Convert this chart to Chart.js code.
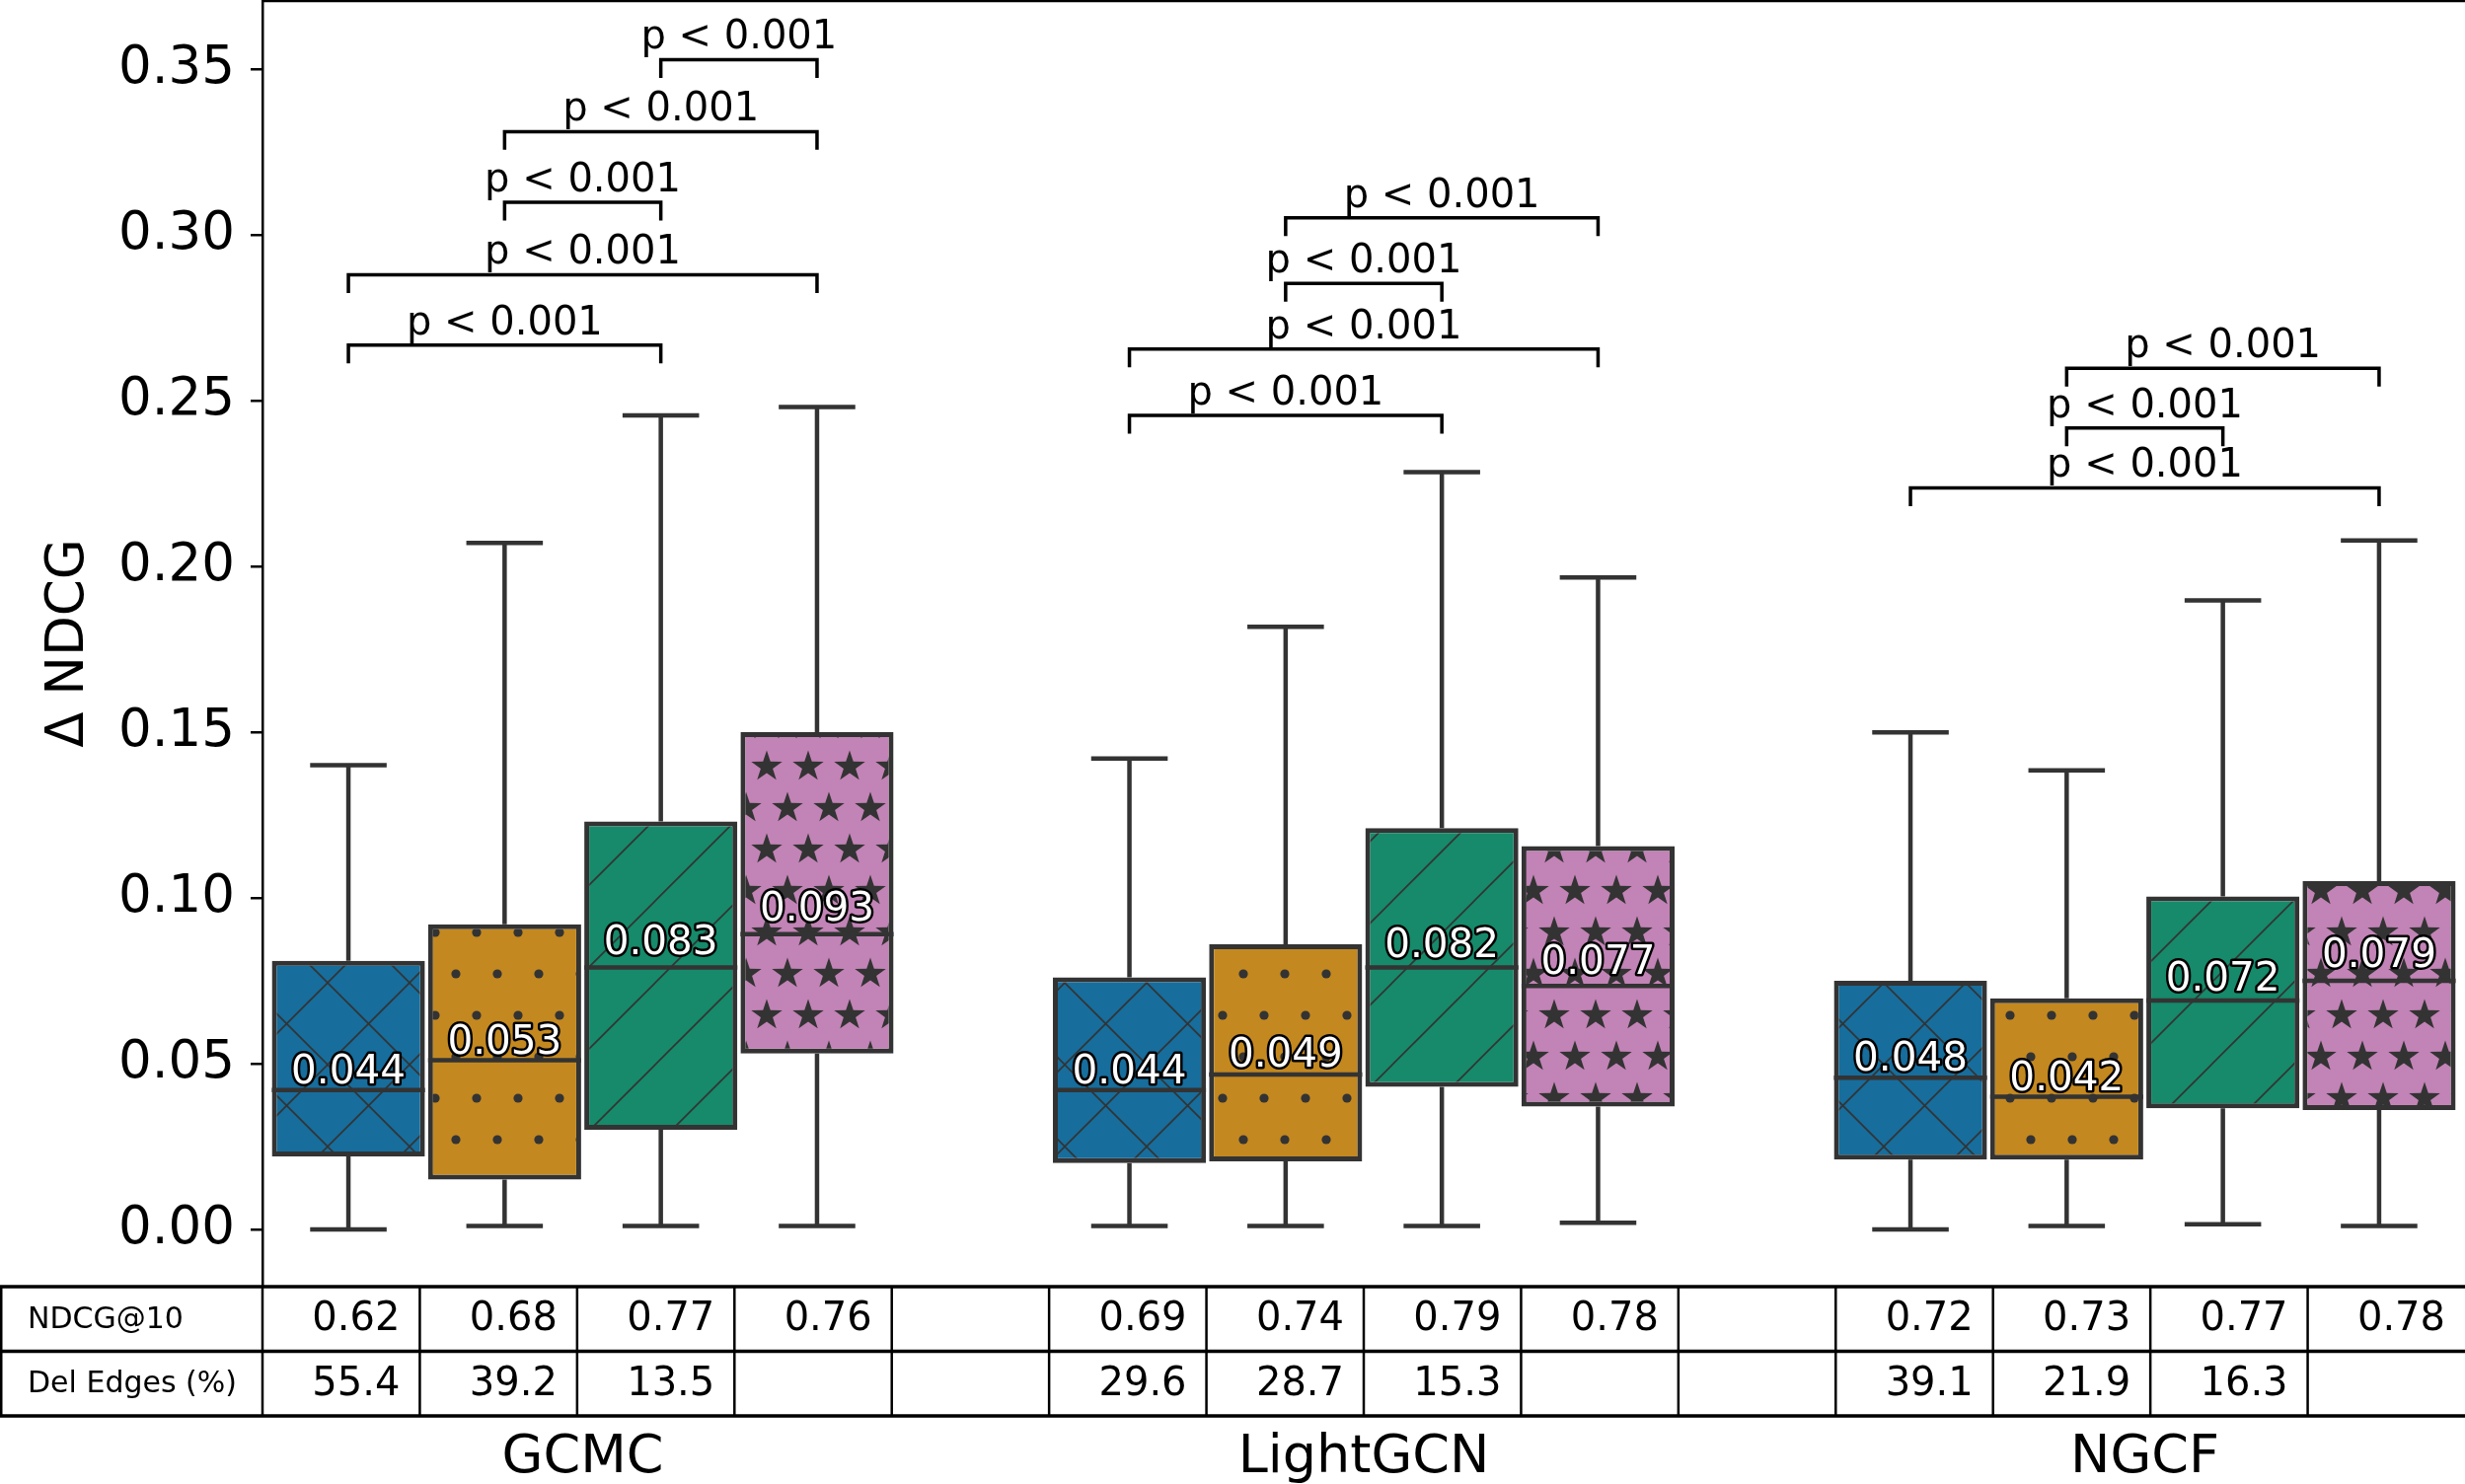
<!DOCTYPE html>
<html>
<head>
<meta charset="utf-8">
<script src="https://cdn.jsdelivr.net/npm/chart.js@4/dist/chart.umd.min.js"></script>
<style>
  body { margin: 0; background: #fff; }
  canvas { display: block; }
</style>
</head>
<body>
<canvas id="boxChart" width="2498" height="1504"></canvas>
<script>
const FONT = '"DejaVu Sans", sans-serif';

const models = ['GCMC', 'LightGCN', 'NGCF'];
const hueColors = ['#176D9C', '#C38820', '#168A6A', '#C283B6'];
const hueHatches = ['x', '.', '/', '*'];

// box statistics, one row per model, one value per hue
const boxMin = [[0.000, 0.001, 0.001, 0.001], [0.001, 0.001, 0.001, 0.002], [0.000, 0.001, 0.0015, 0.001]];
const boxQ1 = [[0.022, 0.015, 0.030, 0.053], [0.020, 0.0205, 0.043, 0.037], [0.021, 0.021, 0.0365, 0.036]];
const boxMedian = [[0.042, 0.051, 0.079, 0.089], [0.042, 0.0467, 0.079, 0.0734], [0.0457, 0.040, 0.069, 0.075]];
const boxQ3 = [[0.081, 0.092, 0.123, 0.150], [0.076, 0.086, 0.121, 0.1156], [0.075, 0.0697, 0.1004, 0.105]];
const boxMax = [[0.140, 0.207, 0.2455, 0.248], [0.142, 0.1817, 0.2284, 0.1966], [0.1499, 0.1384, 0.1897, 0.2078]];
const boxMean = [[0.044, 0.053, 0.083, 0.093], [0.044, 0.049, 0.082, 0.077], [0.048, 0.042, 0.072, 0.079]];

// significance brackets
const bracketModel = [0, 0, 0, 0, 0, 1, 1, 1, 1, 2, 2, 2];
const bracketFrom = [0, 0, 1, 1, 2, 0, 0, 1, 1, 0, 1, 1];
const bracketTo = [2, 3, 2, 3, 3, 2, 3, 2, 3, 3, 2, 3];
const bracketLevel = [0.2667, 0.2879, 0.3098, 0.3311, 0.3528, 0.2455, 0.2655, 0.2853, 0.3051, 0.2236, 0.2417, 0.2597];
const bracketLabel = 'p < 0.001';

// table under the plot
const tableRowLabels = ['NDCG@10', 'Del Edges (%)'];
const ndcgAt10 = [[0.62, 0.68, 0.77, 0.76], [0.69, 0.74, 0.79, 0.78], [0.72, 0.73, 0.77, 0.78]];
const delEdges = [[55.4, 39.2, 13.5, null], [29.6, 28.7, 15.3, null], [39.1, 21.9, 16.3, null]];

const yTickValues = [0, 0.05, 0.10, 0.15, 0.20, 0.25, 0.30, 0.35];
const slotsPerModel = 5;

function makeHatch(kind, color) {
    const c = document.createElement('canvas');
    const ctx = c.getContext('2d');
    if (kind === 'x' || kind === '/') {
        const s = 83;
        c.width = s; c.height = s;
        ctx.fillStyle = color;
        ctx.fillRect(0, 0, s, s);
        ctx.strokeStyle = '#333';
        ctx.lineWidth = 1.6;
        [0, s, 2 * s].forEach(function (k) {
            ctx.beginPath();
            ctx.moveTo(k + 10, -10);
            ctx.lineTo(k - s - 10, s + 10);
            ctx.stroke();
        });
        if (kind === 'x') {
            [-s, 0, s].forEach(function (k) {
                ctx.beginPath();
                ctx.moveTo(k - 10, -10);
                ctx.lineTo(k + s + 10, s + 10);
                ctx.stroke();
            });
        }
    } else {
        c.width = 42; c.height = 84;
        ctx.fillStyle = color;
        ctx.fillRect(0, 0, 42, 84);
        ctx.fillStyle = '#333';
        [[21, 21], [0, 63], [42, 63]].forEach(function (p) {
            ctx.beginPath();
            if (kind === '.') {
                ctx.arc(p[0], p[1], 4.6, 0, Math.PI * 2);
            } else {
                for (let i = 0; i < 10; i++) {
                    const r = i % 2 === 0 ? 16.5 : 6.4;
                    const a = -Math.PI / 2 + i * Math.PI / 5;
                    ctx.lineTo(p[0] + r * Math.cos(a), p[1] + r * Math.sin(a));
                }
                ctx.closePath();
            }
            ctx.fill();
        });
    }
    return ctx.createPattern(c, 'repeat');
}

const boxExtras = {
    id: 'boxExtras',
    afterDatasetsDraw(chart) {
        const ctx = chart.ctx;
        const y = chart.scales.y;
        ctx.save();
        ctx.strokeStyle = '#333';
        ctx.lineWidth = 4.5;
        ctx.lineCap = 'butt';
        models.forEach(function (m, g) {
            for (let h = 0; h < hueColors.length; h++) {
                const bar = chart.getDatasetMeta(h).data[g];
                const half = bar.width / 2;
                const yMin = y.getPixelForValue(boxMin[g][h]);
                const yMax = y.getPixelForValue(boxMax[g][h]);
                ctx.beginPath();
                ctx.moveTo(bar.x, y.getPixelForValue(boxQ3[g][h]));
                ctx.lineTo(bar.x, yMax);
                ctx.moveTo(bar.x, y.getPixelForValue(boxQ1[g][h]));
                ctx.lineTo(bar.x, yMin);
                ctx.moveTo(bar.x - half / 2, yMax);
                ctx.lineTo(bar.x + half / 2, yMax);
                ctx.moveTo(bar.x - half / 2, yMin);
                ctx.lineTo(bar.x + half / 2, yMin);
                const yMed = y.getPixelForValue(boxMedian[g][h]);
                ctx.moveTo(bar.x - half, yMed);
                ctx.lineTo(bar.x + half, yMed);
                ctx.stroke();
            }
        });
        ctx.font = '40.5px ' + FONT;
        ctx.textAlign = 'center';
        ctx.textBaseline = 'alphabetic';
        ctx.lineJoin = 'round';
        models.forEach(function (m, g) {
            for (let h = 0; h < hueColors.length; h++) {
                const bar = chart.getDatasetMeta(h).data[g];
                const ty = y.getPixelForValue(boxMean[g][h]);
                const txt = boxMean[g][h].toFixed(3);
                ctx.strokeStyle = '#000';
                ctx.lineWidth = 5;
                ctx.strokeText(txt, bar.x, ty);
                ctx.fillStyle = '#fff';
                ctx.fillText(txt, bar.x, ty);
            }
        });
        ctx.restore();
    },
    afterDraw(chart) {
        const ctx = chart.ctx;
        const x = chart.scales.x, y = chart.scales.y;
        const area = chart.chartArea;
        ctx.save();

        // top spine
        ctx.strokeStyle = '#000';
        ctx.lineWidth = 2.5;
        ctx.beginPath();
        ctx.moveTo(area.left, area.top);
        ctx.lineTo(area.right, area.top);
        ctx.stroke();

        // brackets
        ctx.lineWidth = 3.5;
        ctx.lineJoin = 'miter';
        ctx.fillStyle = '#000';
        ctx.font = '40px ' + FONT;
        ctx.textAlign = 'center';
        ctx.textBaseline = 'alphabetic';
        bracketLevel.forEach(function (lvl, i) {
            const base = bracketModel[i] * slotsPerModel;
            const x1 = x.getPixelForValue(base + bracketFrom[i]);
            const x2 = x.getPixelForValue(base + bracketTo[i]);
            const yl = y.getPixelForValue(lvl);
            const yLeg = y.getPixelForValue(lvl - 0.0055);
            ctx.beginPath();
            ctx.moveTo(x1, yLeg);
            ctx.lineTo(x1, yl);
            ctx.lineTo(x2, yl);
            ctx.lineTo(x2, yLeg);
            ctx.stroke();
            ctx.fillText(bracketLabel, (x1 + x2) / 2, y.getPixelForValue(lvl + 0.0033));
        });

        // table
        const top = area.bottom + 1;
        const rowH = 65.5;
        const colW = (area.right - area.left) / 14;
        ctx.strokeStyle = '#000';
        ctx.lineWidth = 3.5;
        for (let r = 0; r <= 2; r++) {
            ctx.beginPath();
            ctx.moveTo(0, top + r * rowH);
            ctx.lineTo(chart.width, top + r * rowH);
            ctx.stroke();
        }
        ctx.lineWidth = 2.5;
        for (let k = 0; k <= 14; k++) {
            const cx = k === 0 ? 1.25 : area.left + (k - 1) * colW;
            ctx.beginPath();
            ctx.moveTo(cx, top);
            ctx.lineTo(cx, top + 2 * rowH);
            ctx.stroke();
        }
        ctx.textAlign = 'left';
        ctx.font = '30px ' + FONT;
        ctx.fillText(tableRowLabels[0], 28, top + 42);
        ctx.fillText(tableRowLabels[1], 28, top + 107);
        ctx.textAlign = 'right';
        ctx.font = '40px ' + FONT;
        models.forEach(function (m, g) {
            for (let h = 0; h < 4; h++) {
                const right = area.left + (g * slotsPerModel + h + 1) * colW - 20;
                ctx.fillText(ndcgAt10[g][h].toFixed(2), right, top + 44);
                if (delEdges[g][h] !== null) {
                    ctx.fillText(delEdges[g][h].toFixed(1), right, top + 110);
                }
            }
        });

        // model names
        ctx.textAlign = 'center';
        ctx.font = '54px ' + FONT;
        models.forEach(function (m, g) {
            ctx.fillText(m, x.getPixelForValue(g * slotsPerModel + 1.5), 1492);
        });
        ctx.restore();
    }
};

const datasets = hueColors.map(function (color, h) {
    return {
        label: 'hue ' + h,
        data: models.map(function (m, g) {
            return { x: g * slotsPerModel + h, y: [boxQ1[g][h], boxQ3[g][h]] };
        }),
        backgroundColor: makeHatch(hueHatches[h], color),
        borderColor: '#333',
        borderWidth: 5,
        borderSkipped: false,
        grouped: false,
        barPercentage: 0.98,
        categoryPercentage: 1.0
    };
});

new Chart(document.getElementById('boxChart').getContext('2d'), {
    type: 'bar',
    data: { datasets: datasets },
    plugins: [boxExtras],
    options: {
        responsive: false,
        devicePixelRatio: 1,
        animation: false,
        layout: { padding: { top: 1, right: 0, bottom: 201, left: 0 } },
        plugins: { legend: { display: false }, tooltip: { enabled: false } },
        scales: {
            x: {
                type: 'linear',
                display: false,
                offset: false,
                min: -0.55,
                max: 13.55,
                afterBuildTicks: function (axis) {
                    const t = [];
                    for (let k = 0; k < 14; k++) t.push({ value: k });
                    axis.ticks = t;
                }
            },
            y: {
                min: -0.017,
                max: 0.3705,
                afterBuildTicks: function (axis) {
                    axis.ticks = yTickValues.map(function (v) { return { value: v }; });
                },
                afterFit: function (axis) {
                    axis.width = 266;
                    axis.paddingTop = 0;
                    axis.paddingBottom = 0;
                },
                ticks: {
                    font: { family: FONT, size: 53 },
                    color: '#000',
                    padding: 16,
                    autoSkip: false,
                    callback: function (v) { return v.toFixed(2); }
                },
                grid: { drawOnChartArea: false, drawTicks: true, tickLength: 12, tickColor: '#000', lineWidth: 2.5 },
                border: { display: true, color: '#000', width: 2.5 },
                title: {
                    display: true,
                    text: 'Δ NDCG',
                    font: { family: FONT, size: 53 },
                    color: '#000',
                    padding: { top: 38, bottom: 0 }
                }
            }
        }
    }
});
</script>
</body>
</html>
